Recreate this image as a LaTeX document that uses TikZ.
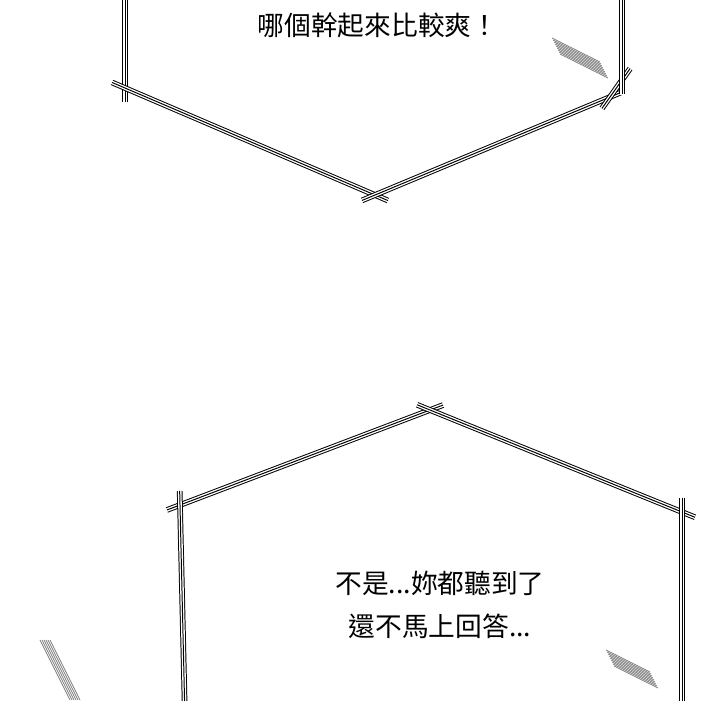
\documentclass[tikz,border=0pt]{standalone}
\usepackage{fontspec}
\newfontfamily\cjk{Noto Sans CJK TC}
\tikzset{
  frame/.style={line width=4pt, shorten <=-10pt, shorten >=-10pt},
  gap/.style={line width=2.6pt, white, shorten <=-11pt, shorten >=-11pt},
  core/.style={line width=0.7pt, shorten <=-10pt, shorten >=-10pt},
  says/.style={font=\cjk\fontsize{19}{31}\selectfont, align=center},
  streak/.style={line width=0.5pt, gray}
}
\newcommand{\edge}[2]{%
  \draw[frame] #1 -- #2; \draw[gap] #1 -- #2; \draw[core] #1 -- #2;}
\begin{document}
\begin{tikzpicture}[x=0.025cm, y=-0.025cm]
  \useasboundingbox[fill=white] (0,0) rectangle (720,700);

  % upper bubble
  \begin{scope}
    \clip (0,0) rectangle (720,700);
    \edge{(125,-20)}{(125,88)}
    \edge{(125,88)}{(375,195)}
    \edge{(375,195)}{(610,97)}
    \edge{(610,97)}{(622,80)}
    \edge{(622,80)}{(622,-20)}
    % lower bubble
    \edge{(180,505)}{(430,410)}
    \edge{(430,410)}{(682,512)}
    \edge{(682,512)}{(682,720)}
    \edge{(180,505)}{(185,720)}
  \end{scope}
  \node[says] (ask) at (378,25) {哪個幹起來比較爽！};
  \node[says] (reply) at (440,605) {不是...妳都聽到了\\還不馬上回答...};

  % speed streaks
  \foreach \i in {0,...,8} {
    \draw[streak] (552+\i,38+2*\i) -- (600+\i,62+2*\i);
    \draw[streak] (606+\i,650+2*\i) -- (650+\i,672+2*\i);
  }
  \foreach \i in {0,...,5} {
    \draw[streak] (40+2*\i,640) -- (70+2*\i,700);
  }
\end{tikzpicture}
\end{document}
